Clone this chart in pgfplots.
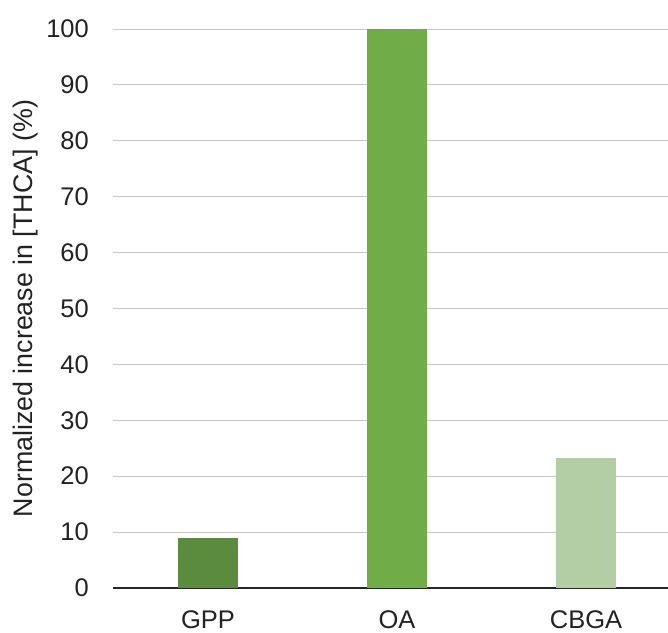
\documentclass[border=0pt]{standalone}
\usepackage{fontspec}
\setmainfont{Liberation Sans}
\usepackage{pgfplots}
\pgfplotsset{compat=1.18}
\definecolor{cgpp}{HTML}{5B8C3E}
\definecolor{coa}{HTML}{70AD47}
\definecolor{ccbga}{HTML}{B3CEA4}
\definecolor{txt}{HTML}{222222}
\begin{document}
\begin{tikzpicture}
\begin{axis}[
  scale only axis,
  width=555pt, height=559pt,
  xmin=-0.5026, xmax=2.434,
  ymin=0, ymax=100,
  ytick={0,10,...,100},
  xtick={0,1,2},
  xticklabels={GPP,OA,CBGA},
  major tick length=0pt,
  axis x line*=bottom,
  axis y line*=left,
  x axis line style={-, draw=black!85, line width=1.3pt},
  y axis line style={draw=none},
  ymajorgrids,
  grid style={color=black!22, line width=0.9pt},
  /pgf/number format/assume math mode=true,
  tick label style={font=\fontsize{25.5}{30}\selectfont, text=txt, inner sep=0pt},
  yticklabel style={anchor=east, xshift=-24pt},
  xticklabel style={anchor=north, yshift=-22pt},
  ylabel={Normalized increase in [THCA] (\%)},
  ylabel style={font=\fontsize{26.8}{31}\selectfont, text=txt, at={(axis description cs:-0.157,0.5)}, anchor=center, inner sep=0pt},
  bar width=60pt,
]
\addplot[ybar, fill=cgpp, draw=none, bar shift=0pt] coordinates {(0,8.9)};
\addplot[ybar, fill=coa, draw=none, bar shift=0pt] coordinates {(1,100)};
\addplot[ybar, fill=ccbga, draw=none, bar shift=0pt] coordinates {(2,23.3)};
\end{axis}
\pgfresetboundingbox
\path ([xshift=-113pt,yshift=-44pt]current axis.south west) rectangle ([yshift=29pt]current axis.north east);
\end{tikzpicture}
\end{document}
